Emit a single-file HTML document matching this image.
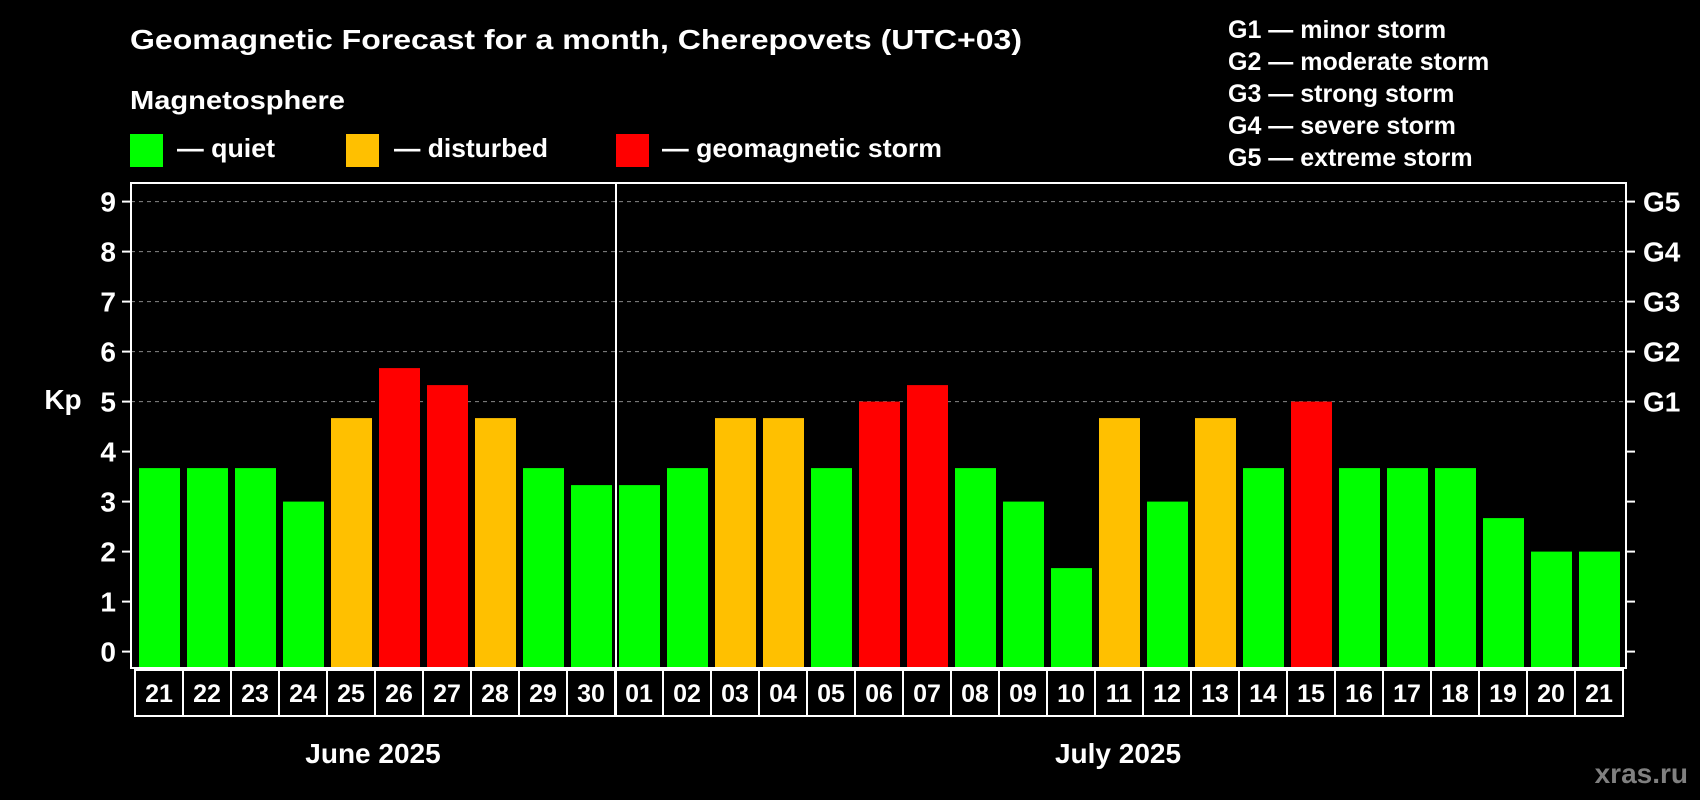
<!DOCTYPE html>
<html><head><meta charset="utf-8"><style>
html,body{margin:0;padding:0;background:#000;}
svg{display:block;font-family:"Liberation Sans",sans-serif;font-weight:bold;}
</style></head><body>
<svg id="chart" width="1700" height="800" viewBox="0 0 1700 800">
<rect width="1700" height="800" fill="#000"/>
<text x="130" y="49" fill="#fff" font-size="28" textLength="892" lengthAdjust="spacingAndGlyphs">Geomagnetic Forecast for a month, Cherepovets (UTC+03)</text>
<text x="130" y="109" fill="#fff" font-size="26" textLength="215" lengthAdjust="spacingAndGlyphs">Magnetosphere</text>
<g>
<rect x="130" y="134" width="33" height="33" fill="#00ff00"/>
<text x="177" y="157" fill="#fff" font-size="26" textLength="98" lengthAdjust="spacingAndGlyphs">— quiet</text></g>
<g>
<rect x="346" y="134" width="33" height="33" fill="#ffc000"/>
<text x="394" y="157" fill="#fff" font-size="26" textLength="154" lengthAdjust="spacingAndGlyphs">— disturbed</text></g>
<g>
<rect x="616" y="134" width="33" height="33" fill="#ff0000"/>
<text x="662" y="157" fill="#fff" font-size="26" textLength="280" lengthAdjust="spacingAndGlyphs">— geomagnetic storm</text></g>
<g fill="#fff" font-size="25">
<text x="1228" y="38">G1 — minor storm</text>
<text x="1228" y="70">G2 — moderate storm</text>
<text x="1228" y="102">G3 — strong storm</text>
<text x="1228" y="134">G4 — severe storm</text>
<text x="1228" y="166">G5 — extreme storm</text>
</g>
<g id="plot"></g>
<text x="63" y="409" fill="#fff" font-size="28" text-anchor="middle">Kp</text>
<text x="373" y="763" fill="#fff" font-size="28" text-anchor="middle">June 2025</text>
<text x="1118" y="763" fill="#fff" font-size="28" text-anchor="middle">July 2025</text>
<text x="1688" y="783" fill="#808080" font-size="28" text-anchor="end">xras.ru</text>
</svg>
<script>
const days = ["21","22","23","24","25","26","27","28","29","30","01","02","03","04","05","06","07","08","09","10","11","12","13","14","15","16","17","18","19","20","21"];
const kpValues = [3.67,3.67,3.67,3,4.67,5.67,5.33,4.67,3.67,3.33,3.33,3.67,4.67,4.67,3.67,5,5.33,3.67,3,1.67,4.67,3,4.67,3.67,5,3.67,3.67,3.67,2.67,2,2];
const yTicks = [0,1,2,3,4,5,6,7,8,9];
const gLabels = ["G1","G2","G3","G4","G5"];
const gLevels = [5,6,7,8,9];
const monthBreakIndex = 10;

const NS="http://www.w3.org/2000/svg";
const plot=document.getElementById('plot');
const L=131,R=1626,T=183,B=668,X0=139,PITCH=48,BW=41;
function y(v){return 651.6-v*50;}
function x(i){return X0+i*PITCH;}
function mk(tag,attrs){const e=document.createElementNS(NS,tag);for(const k in attrs)e.setAttribute(k,attrs[k]);plot.appendChild(e);return e;}
function color(v){return v>=5?'#ff0000':(v>=4?'#ffc000':'#00ff00');}
yTicks.forEach(t=>{
  if(t>=5){const g=mk('line',{x1:L,x2:R,y1:y(t),y2:y(t),stroke:'#888','stroke-dasharray':'4,4','stroke-width':1});
  
  }
  const tk=mk('line',{x1:L-9,x2:L,y1:y(t),y2:y(t),stroke:'#fff','stroke-width':2});
  
  
  const tr=mk('line',{x1:R,x2:R+9,y1:y(t),y2:y(t),stroke:'#fff','stroke-width':2});
  
  
  const lb=mk('text',{x:116,y:y(t)+10,fill:'#fff','font-size':28,'text-anchor':'end'});
  lb.textContent=t;
  
  
});
gLabels.forEach((g,i)=>{
  const lb=mk('text',{x:1643,y:y(gLevels[i])+10,fill:'#fff','font-size':28});
  lb.textContent=g;
  
  
});
kpValues.forEach((v,i)=>{
  const b=mk('rect',{x:x(i),y:y(v),width:BW,height:B-1-y(v),fill:color(v)});
  
  
});
const fr=mk('rect',{x:L,y:T,width:R-L,height:B-T,fill:'none',stroke:'#fff','stroke-width':2});


const dv=mk('line',{x1:x(monthBreakIndex)-3,x2:x(monthBreakIndex)-3,y1:T,y2:716,stroke:'#fff','stroke-width':2});


days.forEach((d,i)=>{
  const bx=mk('rect',{x:x(i)-4,y:670,width:PITCH,height:46,fill:'none',stroke:'#fff','stroke-width':2});
  
  
  const t=mk('text',{x:x(i)-4+PITCH/2,y:702,fill:'#fff','font-size':25,'text-anchor':'middle'});
  t.textContent=d;
  
  
});
</script>
</body></html>
